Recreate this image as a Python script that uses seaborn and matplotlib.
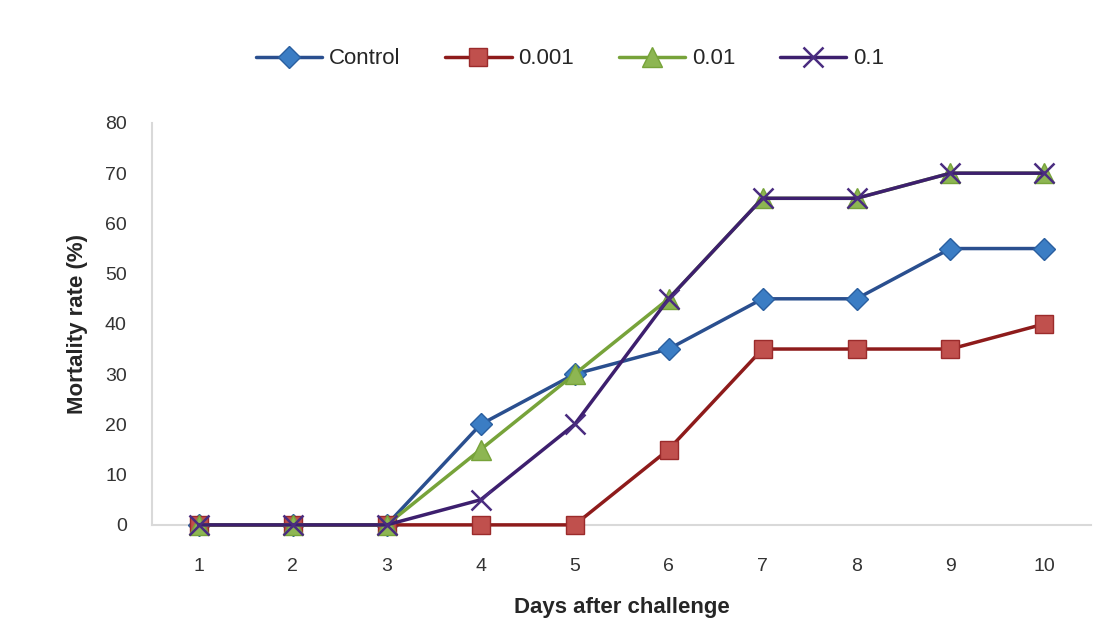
import matplotlib
matplotlib.use("Agg")
import matplotlib.pyplot as plt
import seaborn as sns
import pandas as pd

days = [1, 2, 3, 4, 5, 6, 7, 8, 9, 10]
control = [0, 0, 0, 20, 30, 35, 45, 45, 55, 55]
conc_0001 = [0, 0, 0, 0, 0, 15, 35, 35, 35, 40]
conc_001 = [0, 0, 0, 15, 30, 45, 65, 65, 70, 70]
conc_01 = [0, 0, 0, 5, 20, 45, 65, 65, 70, 70]
series_names = ["Control", "0.001", "0.01", "0.1"]
y_ticks = [0, 10, 20, 30, 40, 50, 60, 70, 80]

sns.set_theme(style="white")
plt.rcParams['font.family'] = ['Liberation Sans', 'DejaVu Sans']

fig = plt.figure(figsize=(11.16, 6.37), dpi=100)
ax = fig.add_axes([0.136, 0.176, 0.842, 0.631])

styles = [
    dict(color="#2A4F8F", marker="D", mfc="#3B7DC4", mec="#2A5FA0", ms=11),
    dict(color="#8E1B1B", marker="s", mfc="#C0504D", mec="#9B2B2B", ms=13),
    dict(color="#77A33A", marker="^", mfc="#8DB652", mec="#77A33A", ms=14),
    dict(color="#3D1F6E", marker="x", mfc="#7F5BBF", mec="#4A2C80", ms=14),
]
all_vals = [control, conc_0001, conc_001, conc_01]
for name, vals, st in zip(series_names, all_vals, styles):
    df = pd.DataFrame({"day": days, "rate": vals})
    sns.lineplot(data=df, x="day", y="rate", ax=ax, color=st["color"], lw=2.5,
                 marker=st["marker"], markersize=st["ms"], markerfacecolor=st["mfc"],
                 markeredgecolor=st["mec"], markeredgewidth=1.8 if st["marker"] == "x" else 1.0,
                 label=name, clip_on=False, zorder=3)

ax.set_xlim(0.5, 10.5)
ax.set_ylim(0, 80)
ax.set_xticks(days)
ax.set_xticklabels([str(d) for d in days], fontsize=14, color="#333333")
ax.set_yticks(y_ticks)
ax.set_yticklabels([str(t) for t in y_ticks], fontsize=14, color="#333333")
ax.tick_params(axis="x", length=0, pad=24)
ax.tick_params(axis="y", length=0, pad=18)
for s in ["top", "right"]:
    ax.spines[s].set_visible(False)
for s in ["left", "bottom"]:
    ax.spines[s].set_color("#D9D9D9")
    ax.spines[s].set_linewidth(1.5)
ax.set_xlabel("Days after challenge", fontsize=16, fontweight="bold", labelpad=16)
ax.set_ylabel("Mortality rate (%)", fontsize=16, fontweight="bold", labelpad=12)
ax.grid(False)

leg = ax.legend(loc="upper center", bbox_to_anchor=(0.445, 1.235), ncol=4, frameon=False,
                fontsize=16, handlelength=3.0, columnspacing=2.0, handletextpad=0.3)
fig.savefig("out.png", dpi=100, facecolor="white")
